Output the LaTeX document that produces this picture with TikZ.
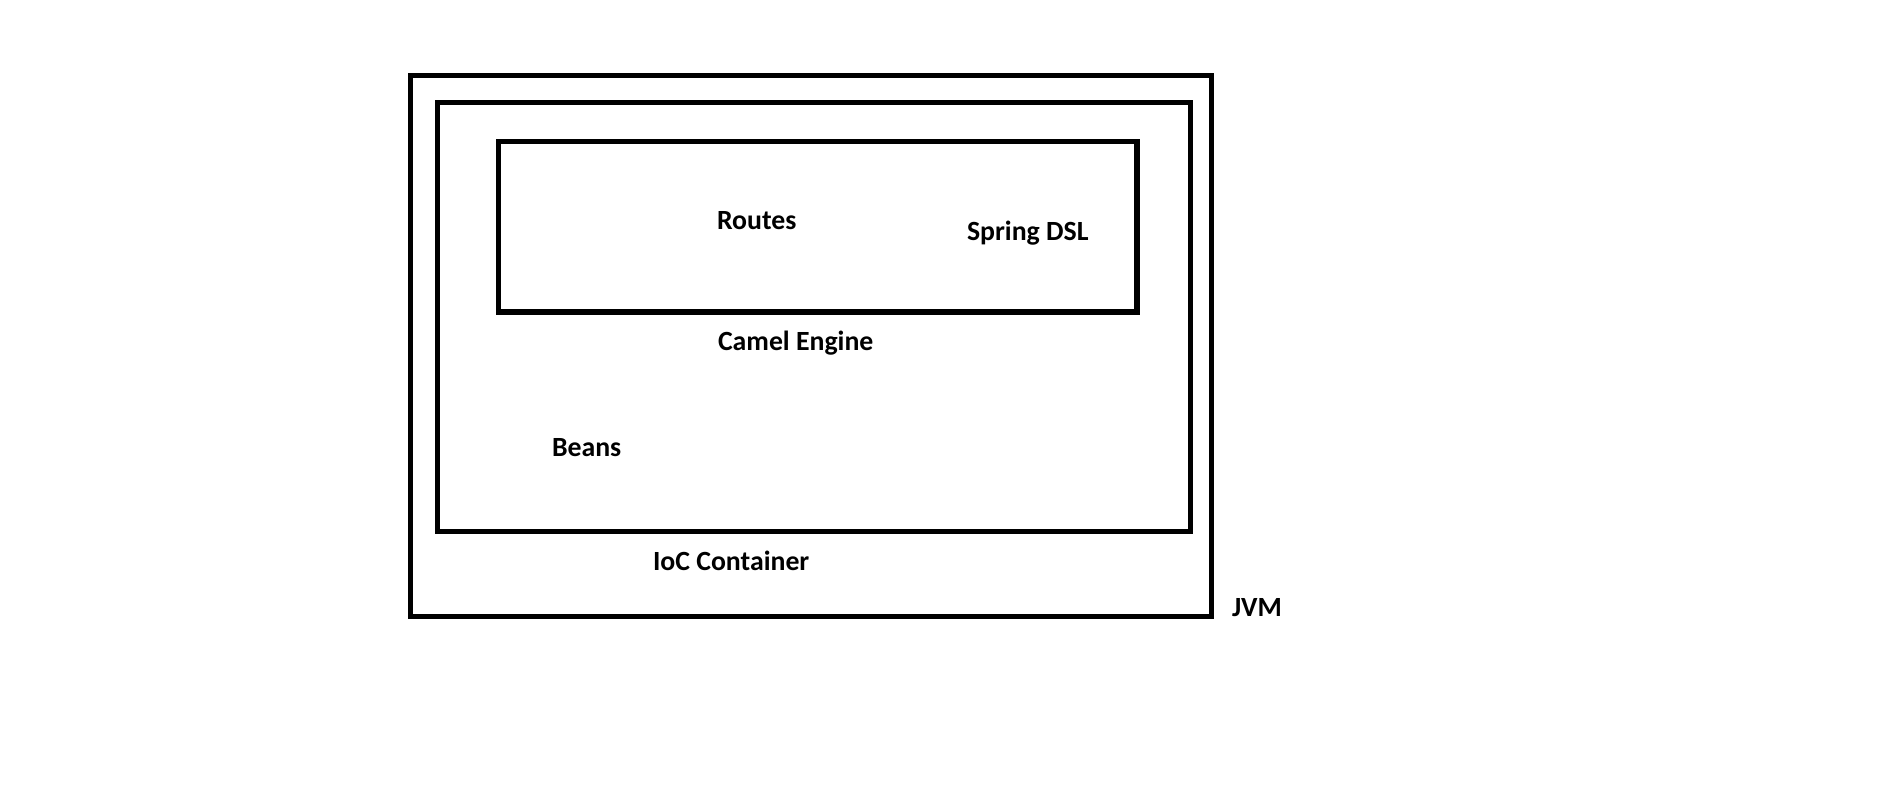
\documentclass[tikz,border=0pt]{standalone}
\usepackage{fontspec}
\setmainfont{Carlito}
\begin{document}
\begin{tikzpicture}[x=0.01cm,y=-0.01cm,
  boxframe/.style={draw=black,line width=1.55pt,inner sep=0pt,outer sep=0pt,anchor=north west},
  lbl/.style={inner sep=0pt,outer sep=0pt,anchor=base west,font=\fontsize{7.9pt}{9.5pt}\selectfont\bfseries}]
\useasboundingbox[fill=white] (0,0) rectangle (1890,785);
\node[boxframe,minimum width=8.003cm,minimum height=5.403cm] (jvm) at (410.7,75.7) {};
\node[boxframe,minimum width=7.53cm,minimum height=4.287cm] (ioc) at (437.3,102.3) {};
\node[boxframe,minimum width=6.384cm,minimum height=1.703cm] (camel) at (498.3,141.7) {};
\node[lbl] (routes) at (717,230) {Routes};
\node[lbl] (dsl) at (967,240.7) {Spring DSL};
\node[lbl] (engine) at (718,350.7) {Camel Engine};
\node[lbl] (beans) at (552,456.7) {Beans};
\node[lbl] (iocl) at (653,570.7) {IoC Container};
\node[lbl] (jvml) at (1232,616.7) {JVM};
\end{tikzpicture}
\end{document}
